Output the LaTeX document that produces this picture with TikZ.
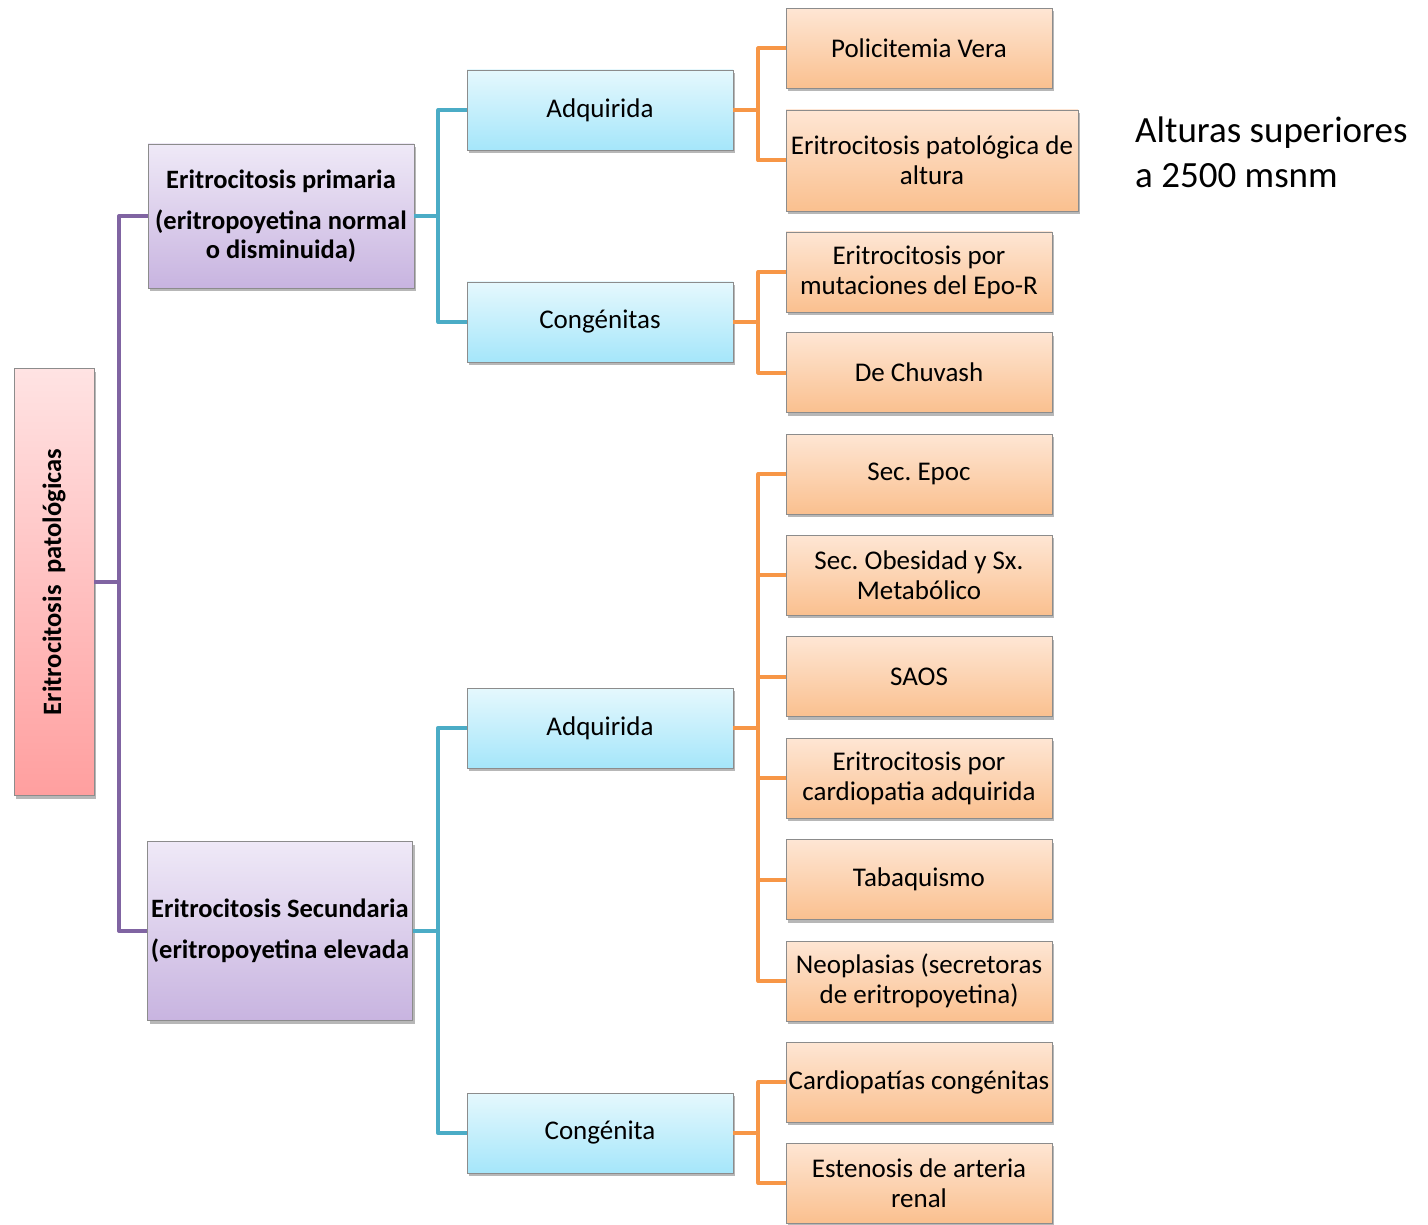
\documentclass[tikz,border=0pt]{standalone}
\usepackage{fontspec}
\setmainfont{Carlito}
\usepackage{tikz}
\usetikzlibrary{shadows}
\frenchspacing

\definecolor{purpleline}{HTML}{8064A2}
\definecolor{blueline}{HTML}{4BACC6}
\definecolor{orangeline}{HTML}{F79646}
\definecolor{rootTop}{HTML}{FFE3E3}
\definecolor{rootBot}{HTML}{FF9F9F}
\definecolor{catTop}{HTML}{EFE9F7}
\definecolor{catBot}{HTML}{C8B4E0}
\definecolor{typeTop}{HTML}{E5F8FD}
\definecolor{typeBot}{HTML}{A5E6FA}
\definecolor{leafTop}{HTML}{FEE6D4}
\definecolor{leafBot}{HTML}{FAC08F}

\tikzset{
  box/.style={draw=black!45,line width=0.8pt,align=center,inner sep=1pt,
    font=\fontsize{27}{30}\selectfont,
    drop shadow={shadow xshift=2pt,shadow yshift=-3pt,opacity=0.4,fill=black!70}},
  rootbox/.style={box,top color=rootTop,bottom color=rootBot,
    minimum width=80pt,minimum height=427pt,font=\bfseries\fontsize{26.5}{30}\selectfont},
  catbox/.style={box,top color=catTop,bottom color=catBot,
    minimum width=266pt,font=\bfseries\fontsize{26.5}{29}\selectfont},
  typebox/.style={box,top color=typeTop,bottom color=typeBot,
    minimum width=266pt,minimum height=80pt},
  leafbox/.style={box,top color=leafTop,bottom color=leafBot,
    minimum width=266pt,minimum height=80pt},
  purplelink/.style={draw=purpleline,line width=4pt,line join=round},
  bluelink/.style={draw=blueline,line width=4pt,line join=round},
  orangelink/.style={draw=orangeline,line width=4pt,line join=round}
}

\begin{document}
\begin{tikzpicture}[x=1pt,y=-1pt]
\useasboundingbox (0,0) rectangle (1428,1225);

\coordinate (rootfork) at (119,582);

% root and the two main groups
\node[rootbox] (root) at (54,582) {\rotatebox{90}{Eritrocitosis\ \ patológicas}};
\node[catbox,minimum height=144pt] (prim) at (281,216)
  {Eritrocitosis primaria\\[12pt](eritropoyetina normal\\o disminuida)};
\node[catbox,minimum width=265pt,minimum height=179pt] (sec) at (280,931)
  {Eritrocitosis Secundaria\\[12pt](eritropoyetina elevada};

% types
\node[typebox] (adq1) at (600,110) {Adquirida};
\node[typebox] (cong1) at (600,322) {Congénitas};
\node[typebox] (adq2) at (600,728) {Adquirida};
\node[typebox] (cong2) at (600,1133) {Congénita};

% leaves of the primary group
\node[leafbox] (vera) at (919,48.5) {Policitemia Vera};
\node[leafbox,minimum width=292pt,minimum height=101pt] (altura) at (932,160.5)
  {Eritrocitosis patológica de\\altura};
\node[leafbox] (epor) at (919,272) {Eritrocitosis por\\mutaciones del Epo-R};
\node[leafbox] (chuvash) at (919,372.5) {De Chuvash};

% leaves of the secondary group
\foreach \t [count=\n] in {{Sec. Epoc},{Sec. Obesidad y Sx.\\Metabólico},{SAOS},
    {Eritrocitosis por\\cardiopatia adquirida},{Tabaquismo},
    {Neoplasias (secretoras\\de eritropoyetina)}}
  \node[leafbox] (acq\n) at (919,{474+(\n-1)*101.4}) {\t};
\node[leafbox] (ccong) at (919,1082) {Cardiopatías congénitas};
\node[leafbox] (renal) at (919,1183) {Estenosis de arteria\\renal};

% note on the right
\node[anchor=north west,align=left,inner sep=0pt,
  font=\fontsize{37}{45}\selectfont] (note) at (1135,117)
  {Alturas superiores\\a 2500 msnm};

% connectors
\draw[purplelink] (root.east) -- (rootfork) |- (prim.west);
\draw[purplelink] (rootfork) |- (sec.west);

\draw[bluelink] (prim.east) -- ++(24,0) |- (adq1.west);
\draw[bluelink] (prim.east) -- ++(24,0) |- (cong1.west);
\draw[bluelink] (sec.east) -- ++(25,0) |- (adq2.west);
\draw[bluelink] (sec.east) -- ++(25,0) |- (cong2.west);

\foreach \a/\b in {adq1/vera,adq1/altura,cong1/epor,cong1/chuvash,
    adq2/acq1,adq2/acq2,adq2/acq3,adq2/acq4,adq2/acq5,adq2/acq6,
    cong2/ccong,cong2/renal}
  \draw[orangelink] (\a.east) -- ++(25,0) |- (\b.west);
\end{tikzpicture}
\end{document}
